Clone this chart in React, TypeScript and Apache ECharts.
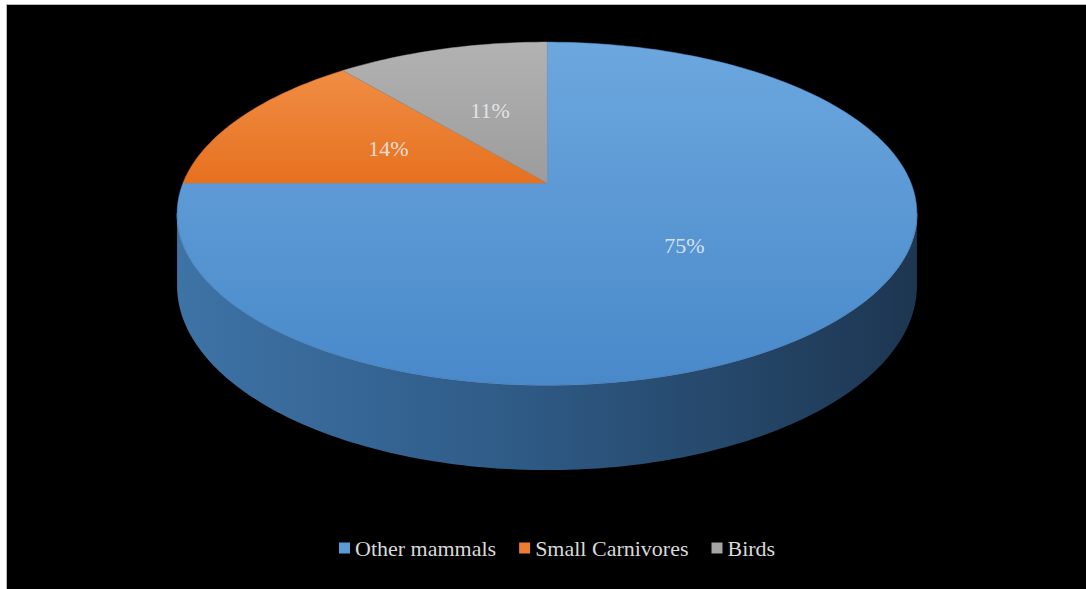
import React, { useEffect, useRef } from "react";
import * as echarts from "echarts";

const categories = ["Other mammals", "Small Carnivores", "Birds"];
const values = [75, 14, 11];
const colors = ["#5b9bd5", "#ed7d31", "#a5a5a5"];
const topGradients = [
  ["#6ca7de", "#4989ca"],
  ["#f08d44", "#e6711f"],
  ["#b2b2b2", "#9c9c9c"],
];

// geometry (layout constants)
const CX = 547;
const CY = 183;
const A = 364;
const B = 166;
const K = 0.178;
const H = 70;
const START_ANGLE = 90;

function proj(deg: number, r = 1) {
  const t = (deg * Math.PI) / 180;
  const u = r * Math.cos(t);
  const v = r * Math.sin(t);
  const w = 1 + K * v;
  return [CX + (A * u) / w, CY - (B * v) / w, w];
}

function sample(a: number, b: number) {
  const pts: number[][] = [];
  const n = Math.max(2, Math.ceil(Math.abs(b - a) / 1));
  for (let i = 0; i <= n; i++) pts.push(proj(a + ((b - a) * i) / n));
  return pts;
}

export default function App() {
  const ref = useRef<HTMLDivElement>(null);
  useEffect(() => {
    if (!ref.current) return;
    const chart = echarts.init(ref.current, undefined, { renderer: "svg" });
    const total = values.reduce((s, v) => s + v, 0);
    const starts: number[] = [];
    let acc = 0;
    values.forEach((v) => {
      starts.push(acc);
      acc += v;
    });
    const alpha = (Math.asin(K) * 180) / Math.PI;

    const series = categories.map((name, idx) => ({
      type: "custom",
      name,
      coordinateSystem: "none",
      data: [[starts[idx], values[idx], total]],
      renderItem: (params: any, api: any) => {
        const s = api.value(0);
        const v = api.value(1);
        const tot = api.value(2);
        const a1 = START_ANGLE - (s / tot) * 360;
        const a2 = START_ANGLE - ((s + v) / tot) * 360;
        const lo = Math.min(a1, a2);
        const hi = Math.max(a1, a2);
        const children: any[] = [];
        // side
        for (const kk of [-360, 0, 360]) {
          const fs = -180 + alpha + kk;
          const fe = -alpha + kk;
          const ss = Math.max(lo, fs);
          const ee = Math.min(hi, fe);
          if (ee > ss) {
            const top = sample(ss, ee);
            const bottom = top
              .slice()
              .reverse()
              .map((p) => [p[0], p[1] + H / p[2]]);
            children.push({
              type: "polygon",
              shape: { points: top.map((p) => [p[0], p[1]]).concat(bottom) },
              style: {
                fill: new echarts.graphic.LinearGradient(0, 0, 1, 0, [
                  { offset: 0, color: "#3e73a6" },
                  { offset: 0.45, color: "#2f5b87" },
                  { offset: 1, color: "#1d3651" },
                ]),
                stroke: "none",
              },
            });
            children.push({
              type: "polyline",
              shape: { points: top.map((p) => [p[0], p[1]]) },
              style: { stroke: "rgba(140,185,230,0.7)", lineWidth: 1, fill: "none" },
            });
          }
        }
        // top face
        const rim = sample(a1, a2).map((p) => [p[0], p[1]]);
        const g = topGradients[params.seriesIndex];
        children.push({
          type: "polygon",
          shape: { points: [[CX, CY]].concat(rim) },
          style: {
            fill: new echarts.graphic.LinearGradient(0, 0, 0, 1, [
              { offset: 0, color: g[0] },
              { offset: 1, color: g[1] },
            ]),
            stroke: g[1],
            lineWidth: 0.5,
          },
        });
        // label
        const mid = (a1 + a2) / 2;
        const lp = proj(mid, 0.5);
        children.push({
          type: "text",
          style: {
            text: Math.round((v / tot) * 100) + "%",
            x: lp[0],
            y: lp[1],
            fill: "rgba(235,240,245,0.85)",
            font: "22px 'Liberation Serif'",
            align: "center",
            verticalAlign: "middle",
          },
        });
        return { type: "group", children };
      },
    }));

    chart.setOption({
      animation: false,
      backgroundColor: "#ffffff",
      color: colors,
      graphic: [
        {
          type: "rect",
          z: -10,
          shape: { x: 6.5, y: 4.5, width: 1080, height: 585 },
          style: { fill: "#000000", stroke: "#b8b8b8", lineWidth: 1 },
        },
      ],
      legend: {
        data: categories,
        left: 339,
        top: 537,
        padding: 0,
        icon: "rect",
        itemWidth: 11,
        itemHeight: 11,
        itemGap: 23,
        textStyle: {
          color: "#d9d9d9",
          fontFamily: "Liberation Serif",
          fontSize: 22,
        },
      },
      series,
    } as any);
    return () => chart.dispose();
  }, []);
  return (
    <div
      ref={ref}
      style={{ position: "fixed", left: 0, top: 0, width: 1086, height: 589 }}
    />
  );
}
